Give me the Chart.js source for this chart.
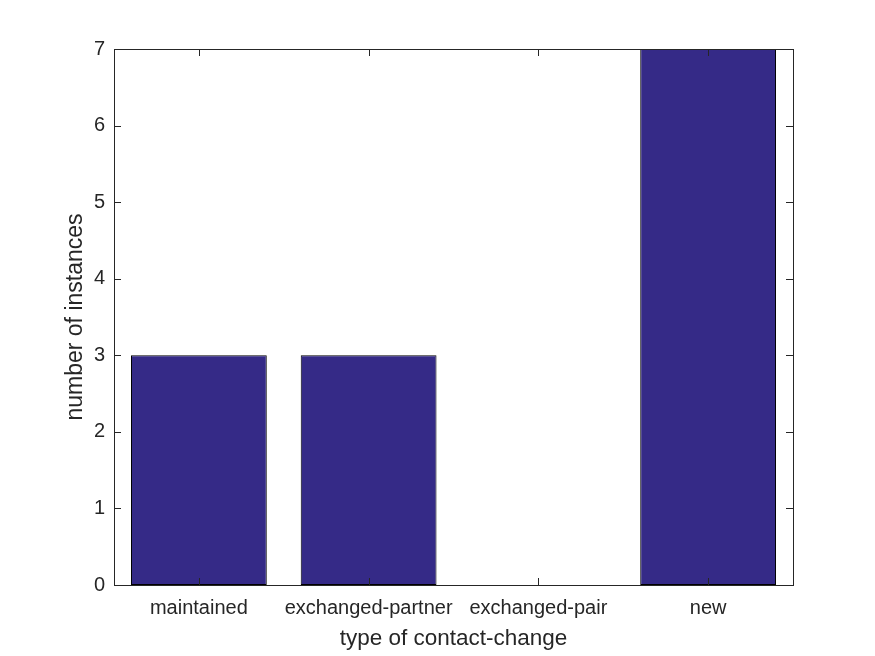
<!DOCTYPE html>
<html>
<head>
<meta charset="utf-8">
<script src="https://cdn.jsdelivr.net/npm/chart.js@4.4.1/dist/chart.umd.min.js"></script>
<style>
  html, body { margin: 0; padding: 0; background: #fff; }
  #wrap { width: 875px; height: 656px; }
</style>
</head>
<body>
<div id="wrap"><canvas id="canvas" width="875" height="656"></canvas></div>
<script>
// data
var categories = ['maintained', 'exchanged-partner', 'exchanged-pair', 'new'];
var counts = [3, 3, 0, 7];
var yMin = 0;
var yMax = 7;
var yStep = 1;

var xTitle = 'type of contact-change';
var yTitle = 'number of instances';

var textColor = '#262626';
var barColor = '#352a87';
var fontFamily = 'Liberation Sans, Arial, sans-serif';

// matlab style box with inward ticks
var boxPlugin = {
    id: 'box',
    afterDatasetsDraw: function (chart) {
        var ctx = chart.ctx;
        var a = chart.chartArea;
        var xs = chart.scales.x, ys = chart.scales.y;
        var len = 7;
        ctx.save();
        ctx.strokeStyle = textColor;
        ctx.lineWidth = 1;
        ctx.beginPath();
        xs.ticks.forEach(function (t, i) {
            var px = Math.round(xs.getPixelForTick(i)) + 0.5;
            ctx.moveTo(px, a.bottom);
            ctx.lineTo(px, a.bottom - len);
            ctx.moveTo(px, a.top);
            ctx.lineTo(px, a.top + len);
        });
        ys.ticks.forEach(function (t) {
            var py = Math.round(ys.getPixelForValue(t.value)) + 0.5;
            ctx.moveTo(a.left, py);
            ctx.lineTo(a.left + len, py);
            ctx.moveTo(a.right, py);
            ctx.lineTo(a.right - len, py);
        });
        ctx.stroke();
        ctx.strokeRect(Math.round(a.left) + 0.5, Math.round(a.top) + 0.5,
            Math.round(a.right - a.left), Math.round(a.bottom - a.top));
        ctx.restore();
    }
};

var ctx = document.getElementById('canvas').getContext('2d');
var chart = new Chart(ctx, {
    type: 'bar',
    data: {
        labels: categories,
        datasets: [{
            data: counts,
            backgroundColor: barColor,
            borderColor: '#000000',
            borderWidth: 1,
            borderSkipped: false,
            categoryPercentage: 1.0,
            barPercentage: 0.8
        }]
    },
    options: {
        responsive: false,
        animation: false,
        devicePixelRatio: 1,
        layout: { padding: { left: 0, top: 49, right: 82, bottom: 0 } },
        plugins: {
            legend: { display: false },
            tooltip: { enabled: false }
        },
        scales: {
            x: {
                offset: true,
                grid: { display: false, drawTicks: false },
                border: { display: false },
                ticks: {
                    color: textColor,
                    padding: 11,
                    maxRotation: 0,
                    autoSkip: false,
                    font: { family: fontFamily, size: 20 }
                },
                title: {
                    display: true,
                    text: xTitle,
                    color: textColor,
                    padding: { top: 0, bottom: 4 },
                    font: { family: fontFamily, size: 22.5 }
                },
                afterFit: function (s) { s.height = 71; }
            },
            y: {
                min: yMin,
                max: yMax,
                grid: { display: false, drawTicks: false },
                border: { display: false },
                ticks: {
                    stepSize: yStep,
                    color: textColor,
                    padding: 9,
                    font: { family: fontFamily, size: 20 }
                },
                title: {
                    display: true,
                    text: yTitle,
                    color: textColor,
                    padding: { top: 62, bottom: 0 },
                    font: { family: fontFamily, size: 23 }
                },
                afterFit: function (s) { s.width = 114; }
            }
        }
    },
    plugins: [boxPlugin]
});
</script>
</body>
</html>
